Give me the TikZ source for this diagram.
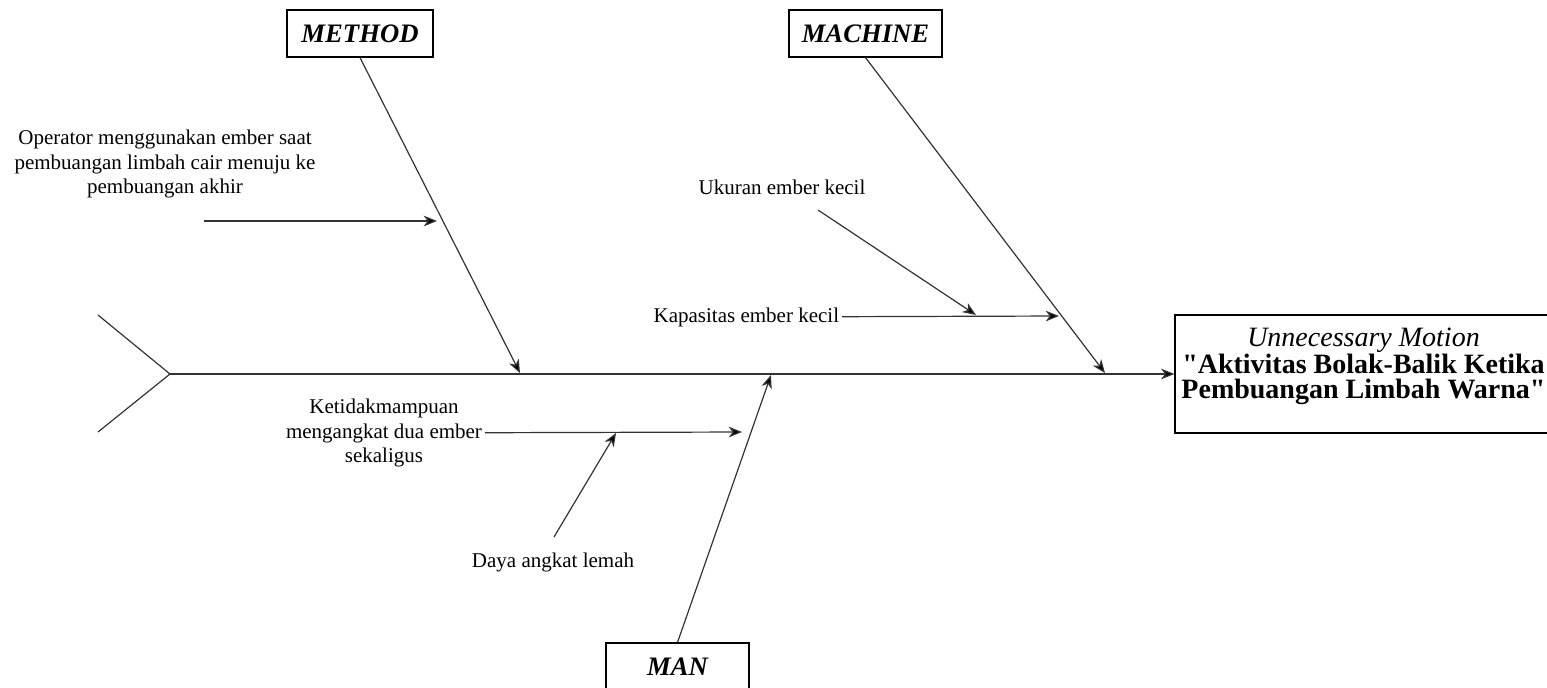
\documentclass[tikz,border=0pt]{standalone}
\usepackage{fontspec}
\setmainfont{Liberation Serif}
\usetikzlibrary{arrows.meta}

\begin{document}
\begin{tikzpicture}[x=0.75pt, y=-0.75pt,
    bone/.style={draw=black!80, line width=0.9pt},
    tip/.style={-{Stealth[length=10pt, width=8pt, inset=3pt, fill=black]}},
    catbox/.style={draw, line width=0.9pt, inner sep=0pt, minimum height=35.25pt,
      font=\fontsize{20}{22}\selectfont\bfseries\itshape},
    cause/.style={align=center, inner sep=2pt, font=\fontsize{15.75}{18.5}\selectfont}]
      \useasboundingbox (0,0) rectangle (1547,687);
      \node[catbox, minimum width=109.5pt] (method) at (360,33.5) {METHOD};
      \node[catbox, minimum width=114.75pt] (machine) at (865.5,33.5) {MACHINE};
      \node[catbox, minimum width=107.25pt] (man) at (677.5,666.5) {MAN};
      \node[draw, line width=0.9pt, minimum width=282.75pt, minimum height=88.5pt] (effect) at (1363.5,374) {};
      \node[align=center, inner sep=0pt, font=\fontsize{21}{18.8}\selectfont] (effectText) at ([yshift=6pt]effect.center)
        {\textit{Unnecessary Motion}\\ \textbf{\textquotedbl Aktivitas Bolak-Balik Ketika}\\ \textbf{Pembuangan Limbah Warna\textquotedbl}};
      \coordinate (head) at (170,374);
      \coordinate (tailA) at (98,315);
      \coordinate (tailB) at (98,432);
      \coordinate (methodEnd) at (520,373);
      \coordinate (machineEnd) at (1105,373);
      \coordinate (manEnd) at (771,375);
      \draw[bone] (tailA) -- (head) -- (tailB);
      \draw[bone, tip] (head) -- (effect.west);
      \draw[bone, tip] (method.south) -- (methodEnd);
      \draw[bone, tip] (machine.south) -- (machineEnd);
      \draw[bone, tip] (man.north) -- (manEnd);
      \node[cause] (operator) at (165,164) {Operator menggunakan ember saat\\ pembuangan limbah cair menuju ke\\ pembuangan akhir};
      \coordinate (operatorFrom) at (204,221);
      \coordinate (operatorTo) at (437,221);
      \draw[bone, tip] (operatorFrom) -- (operatorTo);
      \node[cause, anchor=east] (kapasitas) at (842,317) {Kapasitas ember kecil};
      \coordinate (kapasitasTo) at (1059,316);
      \draw[bone, tip] (kapasitas) -- (kapasitasTo);
      \node[cause] (ukuran) at (782,187) {Ukuran ember kecil};
      \coordinate (ukuranFrom) at (818,210);
      \coordinate (ukuranTo) at (976,315);
      \draw[bone, tip] (ukuranFrom) -- (ukuranTo);
      \node[cause] (ketidak) at (384,433) {Ketidakmampuan\\ mengangkat dua ember\\ sekaligus};
      \coordinate (ketidakTo) at (742,432);
      \draw[bone, tip] (ketidak) -- (ketidakTo);
      \node[cause] (daya) at (553,562) {Daya angkat lemah};
      \coordinate (dayaFrom) at (554,537);
      \coordinate (dayaTo) at (616,433);
      \draw[bone, tip] (dayaFrom) -- (dayaTo);
    \end{tikzpicture}
\end{document}
